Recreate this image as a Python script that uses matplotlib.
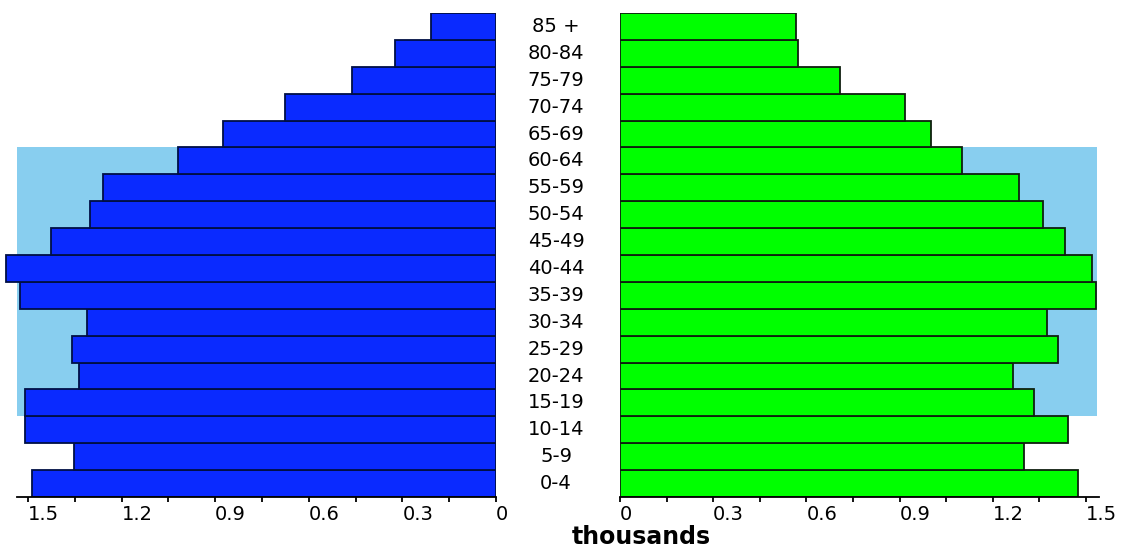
import numpy as np
import matplotlib
matplotlib.use('Agg')
from matplotlib import pyplot as plt
from matplotlib import transforms

# age groups, bottom to top
ages = ['0-4', '5-9', '10-14', '15-19', '20-24', '25-29', '30-34', '35-39',
        '40-44', '45-49', '50-54', '55-59', '60-64', '65-69', '70-74',
        '75-79', '80-84', '85 +']
# thousands
male = [1.486, 1.351, 1.509, 1.509, 1.337, 1.359, 1.310, 1.526, 1.569,
        1.425, 1.301, 1.259, 1.018, 0.876, 0.676, 0.461, 0.325, 0.208]
female = [1.474, 1.299, 1.443, 1.334, 1.266, 1.410, 1.375, 1.533, 1.518,
          1.433, 1.360, 1.284, 1.100, 1.000, 0.916, 0.708, 0.574, 0.565]
tick_vals = [0, 0.3, 0.6, 0.9, 1.2, 1.5]
tick_labels = ['0', '0.3', '0.6', '0.9', '1.2', '1.5']
# working-age band 15-64
band_lo, band_hi = '15-19', '60-64'
band_max = 1.536

W, H = 1130, 557
fig = plt.figure(figsize=(W / 100, H / 100), dpi=100)

top_px, bot_px = 13, 497
b = 1 - bot_px / H
h = (bot_px - top_px) / H

# left (male) axes: 0 at x=496, ~312 px per unit
l_zero, l_scale, l_max = 496, 312.0, 1.575
ax_l = fig.add_axes([(l_zero - l_max * l_scale) / W, b, l_max * l_scale / W, h])
# right (female) axes: 0 at x=620, ~310.7 px per unit
r_zero, r_scale, r_max = 620, 310.7, 1.56
ax_r = fig.add_axes([r_zero / W, b, r_max * r_scale / W, h])

y = np.arange(len(ages))
i0, i1 = ages.index(band_lo), ages.index(band_hi)

for ax, vals, col, ec, amax in [(ax_l, male, '#0a2aff', '#000f45', 1.535),
                                (ax_r, female, '#00ff00', '#0f1f0f', 1.542)]:
    ax.fill_betweenx([i0 - 0.5, i1 + 0.5], 0, band_max, color='#88ceef',
                     lw=0, zorder=0)
    ax.barh(y, vals, height=1.0, color=col, edgecolor=ec, linewidth=1.3,
            zorder=2)
    ax.set_ylim(-0.5, len(ages) - 0.5)
    ax.set_yticks([])
    for s in ['top', 'left', 'right']:
        ax.spines[s].set_visible(False)
    ax.spines['bottom'].set_bounds(0, amax)
    ax.spines['bottom'].set_linewidth(1.3)
    ax.set_xticks(tick_vals)
    ax.set_xticklabels(tick_labels)
    ax.set_xticks(np.arange(0.15, 1.51, 0.3), minor=True)
    ax.tick_params(axis='x', which='both', direction='out', length=3.5,
                   width=1.3, labelsize=14, pad=2, colors='black')
    for lbl in ax.get_xticklabels():
        lbl.set_ha('left')
    ax.patch.set_visible(False)

ax_l.set_xlim(l_max, 0)
ax_r.set_xlim(0, r_max)

# age labels in the middle
tr = transforms.blended_transform_factory(fig.transFigure, ax_l.transData)
for yi, a in zip(y, ages):
    ax_l.text(556 / W, yi, a, transform=tr, ha='center', va='center',
              fontsize=14, color='black')

fig.text(641 / W, 1 - 537 / H, 'thousands', ha='center', va='center',
         fontsize=17, fontweight='bold')

fig.savefig('out.png', dpi=100, facecolor='white')
